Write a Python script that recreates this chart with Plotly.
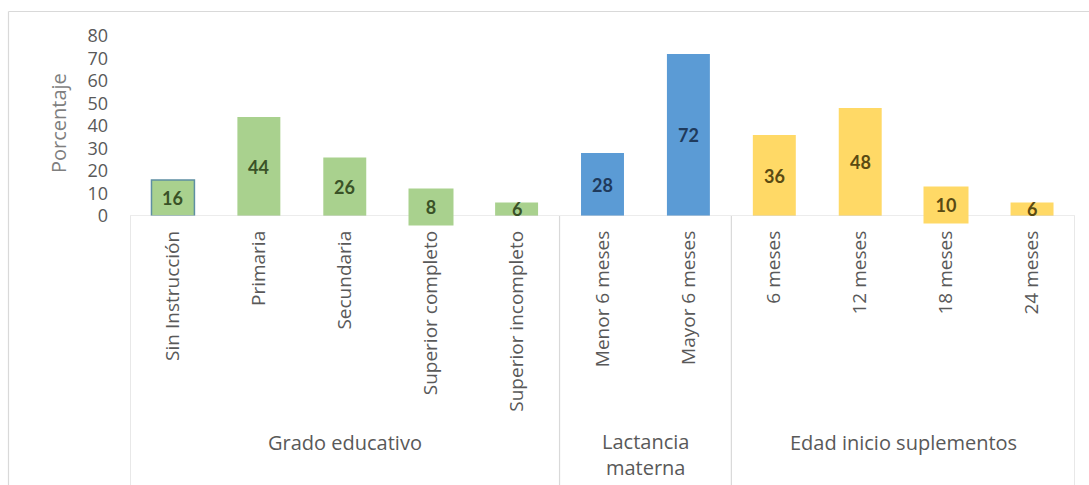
import plotly.graph_objects as go

# Categories and percentages, grouped as they appear on the category axis
educacion = ["Sin Instrucción", "Primaria", "Secundaria", "Superior completo", "Superior incompleto"]
educacion_pct = [16, 44, 26, 8, 6]

lactancia = ["Menor 6 meses", "Mayor 6 meses"]
lactancia_pct = [28, 72]

suplementos = ["6 meses", "12 meses", "18 meses", "24 meses"]
suplementos_pct = [36, 48, 10, 6]

group_names = ["Grado educativo", "Lactancia<br>materna", "Edad inicio suplementos"]
y_ticks = [0, 10, 20, 30, 40, 50, 60, 70, 80]

groups = [
    (educacion, educacion_pct, "#A9D18E", "#3A5227"),
    (lactancia, lactancia_pct, "#5B9BD5", "#1F3A5C"),
    (suplementos, suplementos_pct, "#FFD966", "#5A4A12"),
]

W, H = 1089, 485
L, R, T, B = 130, 14, 36, 269
pw, ph = W - L - R, H - T - B

def px_x(p):
    return (p - L) / pw

def px_y(p):
    return (H - B - p) / ph

fig = go.Figure()
all_cats = []
for cats, vals, col, _ in groups:
    all_cats += cats
    line_colors = ["#5E8FA3" if c == "Sin Instrucción" else col for c in cats]
    line_widths = [1.5 if c == "Sin Instrucción" else 0 for c in cats]
    fig.add_trace(go.Bar(
        x=cats, y=vals, marker=dict(color=col, line=dict(color=line_colors, width=line_widths)),
        width=0.5, showlegend=False, hoverinfo="x+y",
    ))

annotations = []
# value labels centred in each bar
boxed = {"Superior completo", "18 meses"}
for cats, vals, col, tcol in groups:
    for c, v in zip(cats, vals):
        a = dict(x=c, y=v / 2, xref="x", yref="y", text=f"<b>{v}</b>", showarrow=False,
                 font=dict(family="Lato", size=18, color=tcol))
        if c in boxed:
            a.update(bgcolor=col, width=42, height=34)
        annotations.append(a)

# group captions under the rotated category labels
starts = [0, len(educacion), len(educacion) + len(lactancia)]
sizes = [len(educacion), len(lactancia), len(suplementos)]
for name, s, n in zip(group_names, starts, sizes):
    annotations.append(dict(
        x=s + (n - 1) / 2, y=px_y(442) if "<br>" not in name else px_y(455), xref="x", yref="paper",
        text=name, showarrow=False, font=dict(family="Open Sans", size=20, color="#595959"),
        xanchor="center", yanchor="middle",
    ))

# y-axis title
annotations.append(dict(
    x=px_x(59), y=px_y(123), xref="paper", yref="paper", text="Porcentaje", textangle=-90,
    showarrow=False, font=dict(family="Open Sans", size=20, color="#7F7F7F"),
    xanchor="center", yanchor="middle",
))

shapes = []
# vertical dividers between the groups, running from the axis to the bottom edge
edges = [-0.5] + [s + n - 0.5 for s, n in zip(starts, sizes)]
for e in edges:
    shapes.append(dict(type="line", xref="x", yref="paper", x0=e, x1=e, y0=0, y1=px_y(H + 2),
                       line=dict(color="#D9D9D9", width=1.2)))
# baseline
shapes.append(dict(type="line", xref="paper", yref="y", x0=0, x1=1, y0=0, y1=0,
                   line=dict(color="#D9D9D9", width=1.2)))
# outer chart frame (top and left edges)
shapes.append(dict(type="line", xref="paper", yref="paper", x0=px_x(8.5), x1=px_x(W + 2),
                   y0=px_y(11.5), y1=px_y(11.5), line=dict(color="#D9D9D9", width=1.2)))
shapes.append(dict(type="line", xref="paper", yref="paper", x0=px_x(8.5), x1=px_x(8.5),
                   y0=px_y(11.5), y1=px_y(H + 2), line=dict(color="#D9D9D9", width=1.2)))

fig.update_layout(
    width=W, height=H, margin=dict(l=L, r=R, t=T, b=B),
    paper_bgcolor="white", plot_bgcolor="white",
    bargap=0.5,
    xaxis=dict(type="category", categoryorder="array", categoryarray=all_cats,
               range=[-0.5, len(all_cats) - 0.5], tickangle=-90,
               showgrid=False, showline=False, zeroline=False, ticks="",
               ticklabelstandoff=10,
               tickfont=dict(family="Open Sans", size=19, color="#595959")),
    yaxis=dict(range=[0, 80], tickvals=y_ticks, showgrid=False, showline=False, zeroline=False,
               ticks="", ticklabelstandoff=21,
               tickfont=dict(family="Open Sans", size=18, color="#595959")),
    annotations=annotations, shapes=shapes,
)

fig.write_html("out.html")
